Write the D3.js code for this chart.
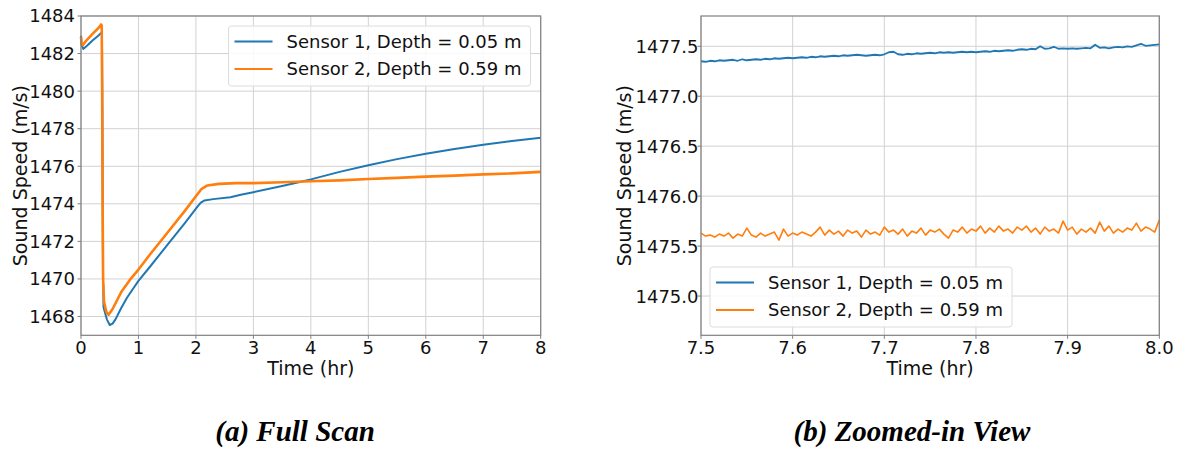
<!DOCTYPE html>
<html>
<head>
<meta charset="utf-8">
<script src="https://cdn.jsdelivr.net/npm/d3@7"></script>
<style>
  body { margin: 0; background: #fff; }
  svg { display: block; }
  .tick-label { font-family: "DejaVu Sans", sans-serif; font-size: 18px; fill: #111; }
  .axis-label { font-family: "DejaVu Sans", sans-serif; font-size: 19px; fill: #111; }
  .legend-label { font-family: "DejaVu Sans", sans-serif; font-size: 18px; fill: #111; }
  .caption { font-family: "Liberation Serif", "Times New Roman", serif; font-size: 29px; font-weight: bold; font-style: italic; fill: #000; }
  .grid line { stroke: #d2d2d2; stroke-width: 1; }
  .spine { fill: none; stroke: #7f7f7f; stroke-width: 1.2; }
  .series { fill: none; stroke-linejoin: round; }
</style>
</head>
<body>
<svg id="chart" width="1177" height="449"></svg>
<script>
// Series names / colours
const seriesNames = ['Sensor 1, Depth = 0.05 m', 'Sensor 2, Depth = 0.59 m'];
const seriesColors = ['#1f77b4', '#ff7f0e'];

// (a) Full scan, [time (hr), sound speed (m/s)]
const sensor1Full = [
  [0.00, 1482.95], [0.01, 1482.45], [0.04, 1482.25], [0.10, 1482.40], [0.20, 1482.70],
  [0.30, 1482.95], [0.35, 1483.10], [0.365, 1483.12], [0.372, 1479.0], [0.378, 1474.0],
  [0.383, 1469.8], [0.388, 1469.6], [0.392, 1468.5], [0.40, 1468.40], [0.45, 1467.85],
  [0.50, 1467.55], [0.55, 1467.62], [0.60, 1467.85], [0.70, 1468.45], [0.80, 1469.00],
  [0.90, 1469.45], [1.00, 1469.90], [1.20, 1470.65], [1.50, 1471.80], [1.80, 1472.95],
  [2.00, 1473.75], [2.08, 1474.05], [2.15, 1474.18], [2.30, 1474.25], [2.60, 1474.35],
  [2.80, 1474.50], [3.00, 1474.62], [3.50, 1474.95], [4.00, 1475.30], [4.50, 1475.70],
  [5.00, 1476.05], [5.50, 1476.38], [6.00, 1476.67], [6.50, 1476.92], [7.00, 1477.15],
  [7.50, 1477.35], [8.00, 1477.52],
];
const sensor2Full = [
  [0.00, 1482.90], [0.01, 1482.50], [0.03, 1482.45], [0.10, 1482.72], [0.20, 1483.05],
  [0.30, 1483.35], [0.35, 1483.55], [0.36, 1483.50], [0.368, 1480.0], [0.376, 1474.0],
  [0.385, 1470.0], [0.40, 1468.80], [0.44, 1468.25], [0.48, 1468.10], [0.55, 1468.40],
  [0.70, 1469.30], [0.85, 1469.95], [1.00, 1470.50], [1.20, 1471.30], [1.50, 1472.45],
  [1.80, 1473.60], [2.00, 1474.40], [2.10, 1474.80], [2.20, 1474.98], [2.40, 1475.06],
  [2.70, 1475.10], [3.00, 1475.10], [3.50, 1475.15], [4.00, 1475.20], [4.50, 1475.25],
  [5.00, 1475.32], [5.50, 1475.38], [6.00, 1475.45], [6.50, 1475.50], [7.00, 1475.57],
  [7.50, 1475.62], [8.00, 1475.70],
];

// (b) Zoomed-in view, [time (hr), sound speed (m/s)]
const sensor1Zoom = [
  [7.500, 1477.350], [7.505, 1477.345], [7.510, 1477.355], [7.515, 1477.350], [7.520, 1477.360],
  [7.525, 1477.355], [7.530, 1477.360], [7.535, 1477.365], [7.540, 1477.355], [7.545, 1477.370],
  [7.550, 1477.360], [7.555, 1477.365], [7.560, 1477.370], [7.565, 1477.365], [7.570, 1477.375],
  [7.575, 1477.370], [7.580, 1477.380], [7.585, 1477.375], [7.590, 1477.380], [7.595, 1477.385],
  [7.600, 1477.380], [7.605, 1477.385], [7.610, 1477.390], [7.615, 1477.385], [7.620, 1477.395],
  [7.625, 1477.390], [7.630, 1477.400], [7.635, 1477.395], [7.640, 1477.400], [7.645, 1477.405],
  [7.650, 1477.400], [7.655, 1477.410], [7.660, 1477.405], [7.665, 1477.410], [7.670, 1477.415],
  [7.675, 1477.410], [7.680, 1477.405], [7.685, 1477.410], [7.690, 1477.415], [7.695, 1477.410],
  [7.700, 1477.420], [7.705, 1477.440], [7.710, 1477.445], [7.715, 1477.420], [7.720, 1477.415],
  [7.725, 1477.425], [7.730, 1477.420], [7.735, 1477.430], [7.740, 1477.425], [7.745, 1477.430],
  [7.750, 1477.435], [7.755, 1477.430], [7.760, 1477.440], [7.765, 1477.435], [7.770, 1477.440],
  [7.775, 1477.435], [7.780, 1477.440], [7.785, 1477.445], [7.790, 1477.440], [7.795, 1477.445],
  [7.800, 1477.440], [7.805, 1477.445], [7.810, 1477.450], [7.815, 1477.445], [7.820, 1477.455],
  [7.825, 1477.450], [7.830, 1477.455], [7.835, 1477.460], [7.840, 1477.455], [7.845, 1477.465],
  [7.850, 1477.470], [7.855, 1477.465], [7.860, 1477.475], [7.865, 1477.470], [7.870, 1477.500],
  [7.875, 1477.475], [7.880, 1477.480], [7.885, 1477.495], [7.890, 1477.475], [7.895, 1477.480],
  [7.900, 1477.475], [7.905, 1477.480], [7.910, 1477.475], [7.915, 1477.480], [7.920, 1477.485],
  [7.925, 1477.480], [7.930, 1477.515], [7.935, 1477.485], [7.940, 1477.490], [7.945, 1477.480],
  [7.950, 1477.490], [7.955, 1477.495], [7.960, 1477.490], [7.965, 1477.500], [7.970, 1477.495],
  [7.975, 1477.510], [7.980, 1477.525], [7.985, 1477.505], [7.990, 1477.510], [7.995, 1477.515],
  [8.000, 1477.520],
];
const sensor2Zoom = [
  [7.500, 1475.63], [7.505, 1475.60], [7.510, 1475.61], [7.515, 1475.59], [7.520, 1475.62],
  [7.525, 1475.60], [7.530, 1475.63], [7.535, 1475.58], [7.540, 1475.62], [7.545, 1475.60],
  [7.550, 1475.68], [7.555, 1475.61], [7.560, 1475.59], [7.565, 1475.63], [7.570, 1475.60],
  [7.575, 1475.62], [7.580, 1475.64], [7.585, 1475.56], [7.590, 1475.67], [7.595, 1475.60],
  [7.600, 1475.63], [7.605, 1475.61], [7.610, 1475.64], [7.615, 1475.62], [7.620, 1475.60],
  [7.625, 1475.64], [7.630, 1475.69], [7.635, 1475.61], [7.640, 1475.66], [7.645, 1475.62],
  [7.650, 1475.65], [7.655, 1475.60], [7.660, 1475.66], [7.665, 1475.63], [7.670, 1475.65],
  [7.675, 1475.59], [7.680, 1475.66], [7.685, 1475.62], [7.690, 1475.64], [7.695, 1475.61],
  [7.700, 1475.69], [7.705, 1475.64], [7.710, 1475.66], [7.715, 1475.62], [7.720, 1475.67],
  [7.725, 1475.60], [7.730, 1475.65], [7.735, 1475.63], [7.740, 1475.68], [7.745, 1475.61],
  [7.750, 1475.66], [7.755, 1475.64], [7.760, 1475.67], [7.765, 1475.62], [7.770, 1475.58],
  [7.775, 1475.66], [7.780, 1475.64], [7.785, 1475.69], [7.790, 1475.63], [7.795, 1475.67],
  [7.800, 1475.65], [7.805, 1475.70], [7.810, 1475.63], [7.815, 1475.68], [7.820, 1475.64],
  [7.825, 1475.70], [7.830, 1475.65], [7.835, 1475.67], [7.840, 1475.63], [7.845, 1475.69],
  [7.850, 1475.66], [7.855, 1475.70], [7.860, 1475.64], [7.865, 1475.68], [7.870, 1475.62],
  [7.875, 1475.69], [7.880, 1475.65], [7.885, 1475.67], [7.890, 1475.63], [7.895, 1475.75],
  [7.900, 1475.66], [7.905, 1475.69], [7.910, 1475.62], [7.915, 1475.67], [7.920, 1475.64],
  [7.925, 1475.68], [7.930, 1475.63], [7.935, 1475.74], [7.940, 1475.65], [7.945, 1475.70],
  [7.950, 1475.63], [7.955, 1475.67], [7.960, 1475.64], [7.965, 1475.68], [7.970, 1475.66],
  [7.975, 1475.73], [7.980, 1475.65], [7.985, 1475.69], [7.990, 1475.67], [7.995, 1475.64],
  [8.000, 1475.76],
];

// Ticks
const fullXTicks = [0, 1, 2, 3, 4, 5, 6, 7, 8];
const fullYTicks = [1468, 1470, 1472, 1474, 1476, 1478, 1480, 1482, 1484];
const zoomXTicks = [7.5, 7.6, 7.7, 7.8, 7.9, 8.0];
const zoomYTicks = [1475.0, 1475.5, 1476.0, 1476.5, 1477.0, 1477.5];

const captions = ['(a) Full Scan', '(b) Zoomed-in View'];

const svg = d3.select('#chart');

function drawPanel(opts) {
  const x = d3.scaleLinear().domain(opts.xDomain).range([opts.left, opts.right]);
  const y = d3.scaleLinear().domain(opts.yDomain).range([opts.bottom, opts.top]);

  const g = svg.append('g').classed('panel', true);

  // Grid
  const grid = g.append('g').classed('grid', true);
  grid.selectAll('.gx')
    .data(opts.xTicks)
    .enter().append('line')
    .attr('x1', (d) => x(d)).attr('x2', (d) => x(d))
    .attr('y1', opts.top).attr('y2', opts.bottom);
  grid.selectAll('.gy')
    .data(opts.yTicks)
    .enter().append('line')
    .attr('x1', opts.left).attr('x2', opts.right)
    .attr('y1', (d) => y(d)).attr('y2', (d) => y(d));

  // Lines
  const line = d3.line()
    .x((d) => x(d[0]))
    .y((d) => y(d[1]));
  g.append('g')
    .selectAll('.series')
    .data(opts.series)
    .enter().append('path')
    .classed('series', true)
    .attr('stroke', (d, i) => seriesColors[i])
    .attr('stroke-width', (d, i) => opts.widths[i])
    .attr('d', (d) => line(d));

  // Spines
  g.append('rect')
    .classed('spine', true)
    .attr('x', opts.left).attr('y', opts.top)
    .attr('width', opts.right - opts.left)
    .attr('height', opts.bottom - opts.top);

  // Ticks + labels
  const xt = g.append('g');
  xt.selectAll('line')
    .data(opts.xTicks)
    .enter().append('line')
    .attr('x1', (d) => x(d)).attr('x2', (d) => x(d))
    .attr('y1', opts.bottom).attr('y2', opts.bottom + 3.5)
    .attr('stroke', '#7f7f7f');
  xt.selectAll('text')
    .data(opts.xTicks)
    .enter().append('text')
    .classed('tick-label', true)
    .attr('x', (d) => x(d))
    .attr('y', opts.bottom + 18.5)
    .attr('text-anchor', 'middle')
    .text(opts.xFormat);

  const yt = g.append('g');
  yt.selectAll('line')
    .data(opts.yTicks)
    .enter().append('line')
    .attr('x1', opts.left - 3.5).attr('x2', opts.left)
    .attr('y1', (d) => y(d)).attr('y2', (d) => y(d))
    .attr('stroke', '#7f7f7f');
  yt.selectAll('text')
    .data(opts.yTicks)
    .enter().append('text')
    .classed('tick-label', true)
    .attr('x', opts.left - opts.yPad)
    .attr('y', (d) => y(d))
    .attr('dy', '0.36em')
    .attr('text-anchor', 'end')
    .text(opts.yFormat);

  // Axis labels
  g.append('text')
    .classed('axis-label', true)
    .attr('x', (opts.left + opts.right) / 2)
    .attr('y', opts.bottom + 39.5)
    .attr('text-anchor', 'middle')
    .text('Time (hr)');
  g.append('text')
    .classed('axis-label', true)
    .attr('transform', `translate(${opts.yLabelX}, ${(opts.top + opts.bottom) / 2}) rotate(-90)`)
    .attr('dy', '0.35em')
    .attr('text-anchor', 'middle')
    .text('Sound Speed (m/s)');

  // Legend
  const lg = g.append('g')
    .attr('transform', `translate(${opts.legend.x}, ${opts.legend.y})`);
  lg.append('rect')
    .attr('width', 302).attr('height', 60)
    .attr('rx', 3)
    .attr('fill', '#fff').attr('fill-opacity', 0.85)
    .attr('stroke', '#dcdcdc');
  const items = lg.selectAll('.item')
    .data(seriesNames)
    .enter().append('g')
    .attr('transform', (d, i) => `translate(0, ${15.5 + i * 27.5})`);
  items.append('line')
    .attr('x1', 6).attr('x2', 44)
    .attr('stroke', (d, i) => seriesColors[i])
    .attr('stroke-width', 2);
  items.append('text')
    .classed('legend-label', true)
    .attr('x', 58)
    .attr('dy', '0.35em')
    .text((d) => d);

  // Caption
  svg.append('text')
    .classed('caption', true)
    .attr('x', opts.captionX)
    .attr('y', 441)
    .attr('text-anchor', 'middle')
    .text(opts.caption);
}

drawPanel({
  left: 81, right: 540.7, top: 16, bottom: 335.3,
  xDomain: [0, 8], yDomain: [1467, 1484],
  xTicks: fullXTicks, yTicks: fullYTicks,
  xFormat: (d) => d3.format('d')(d), yFormat: (d) => d3.format('d')(d),
  yPad: 6, yLabelX: 20,
  series: [sensor1Full, sensor2Full], widths: [2, 2.6],
  legend: {x: 228.5, y: 26},
  caption: captions[0], captionX: 295,
});

drawPanel({
  left: 701, right: 1159.3, top: 16, bottom: 335.3,
  xDomain: [7.5, 8.0], yDomain: [1474.607, 1477.803],
  xTicks: zoomXTicks, yTicks: zoomYTicks,
  xFormat: (d) => d3.format('.1f')(d), yFormat: (d) => d3.format('.1f')(d),
  yPad: 2.5, yLabelX: 624,
  series: [sensor1Zoom, sensor2Zoom], widths: [1.8, 1.6],
  legend: {x: 710, y: 267},
  caption: captions[1], captionX: 912,
});
</script>
</body>
</html>
